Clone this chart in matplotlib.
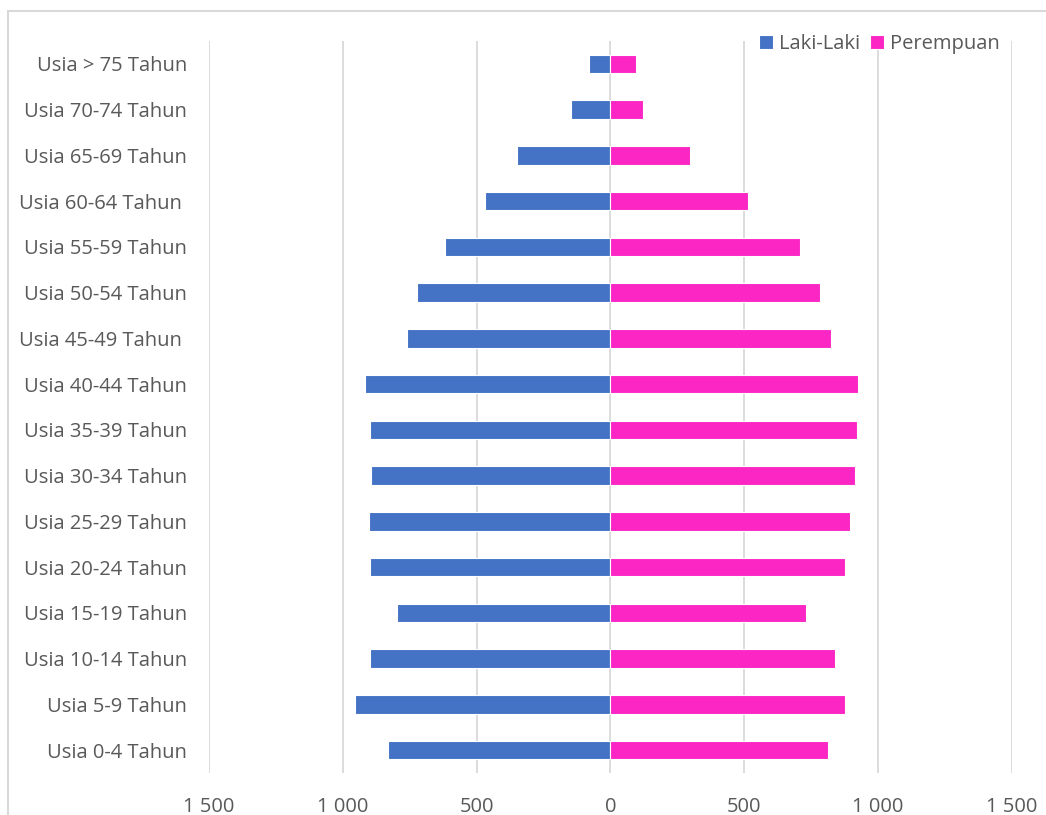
"""Population pyramid by age group (Laki-Laki vs Perempuan)."""

import matplotlib.pyplot as plt
import numpy as np
from matplotlib.patches import Rectangle
from matplotlib.ticker import FuncFormatter

plt.rcParams["font.family"] = ["Open Sans", "DejaVu Sans"]

AGE_GROUPS = ["Usia 0-4 Tahun", "Usia 5-9 Tahun", "Usia 10-14 Tahun", "Usia 15-19 Tahun",
              "Usia 20-24 Tahun", "Usia 25-29 Tahun", "Usia 30-34 Tahun", "Usia 35-39 Tahun",
              "Usia 40-44 Tahun", "Usia 45-49 Tahun ", "Usia 50-54 Tahun", "Usia 55-59 Tahun",
              "Usia 60-64 Tahun ", "Usia 65-69 Tahun", "Usia 70-74 Tahun", "Usia > 75 Tahun"]
LAKI = [831, 955, 899, 798, 899, 903, 895, 899, 918, 760, 723, 618, 468, 348, 146, 79]
PEREMPUAN = [813, 876, 839, 730, 876, 895, 914, 921, 925, 824, 783, 708, 513, 296, 120, 97]

BLUE = "#4472C4"
PINK = "#FB26C4"
TEXT = "#595959"
GRID = "#D9D9D9"


def thousands(v, _):
    return f"{abs(v):,.0f}".replace(",", " ")


fig = plt.figure(figsize=(10.46, 8.15), dpi=100)
ax = fig.add_axes([0.1998, 0.0515, 0.7677, 0.8982])
fig.patches.append(Rectangle((8 / 1046, -0.1), 1.2, 1 - 11 / 815 + 0.1, transform=fig.transFigure,
                             fill=False, edgecolor=GRID, lw=1.5))

y = np.arange(len(AGE_GROUPS))
ax.barh(y, -np.array(LAKI), height=0.4, color=BLUE, edgecolor="white", lw=0.8, label="Laki-Laki",
        zorder=3)
ax.barh(y, PEREMPUAN, height=0.4, color=PINK, edgecolor="white", lw=0.8, label="Perempuan",
        zorder=3)

ax.set_xlim(-1500, 1500)
ax.set_ylim(-0.5, len(AGE_GROUPS) - 0.5)
ax.set_xticks(np.arange(-1500, 1501, 500))
ax.xaxis.set_major_formatter(FuncFormatter(thousands))
ax.set_yticks(y)
ax.set_yticklabels(AGE_GROUPS)
ax.grid(axis="x", color=GRID, lw=1.3, zorder=0)
for s in ax.spines.values():
    s.set_visible(False)
ax.tick_params(length=0, colors=TEXT, labelsize=14.5)
ax.tick_params(axis="x", pad=17)
ax.tick_params(axis="y", pad=16)

ax.legend(loc="lower right", bbox_to_anchor=(0.985, 0.982), ncol=2, frameon=False, fontsize=14.5,
          handlelength=0.7, handleheight=0.7, handletextpad=0.3, columnspacing=0.5,
          labelcolor=TEXT, borderaxespad=0, borderpad=0)

fig.savefig("out.png", dpi=100)
